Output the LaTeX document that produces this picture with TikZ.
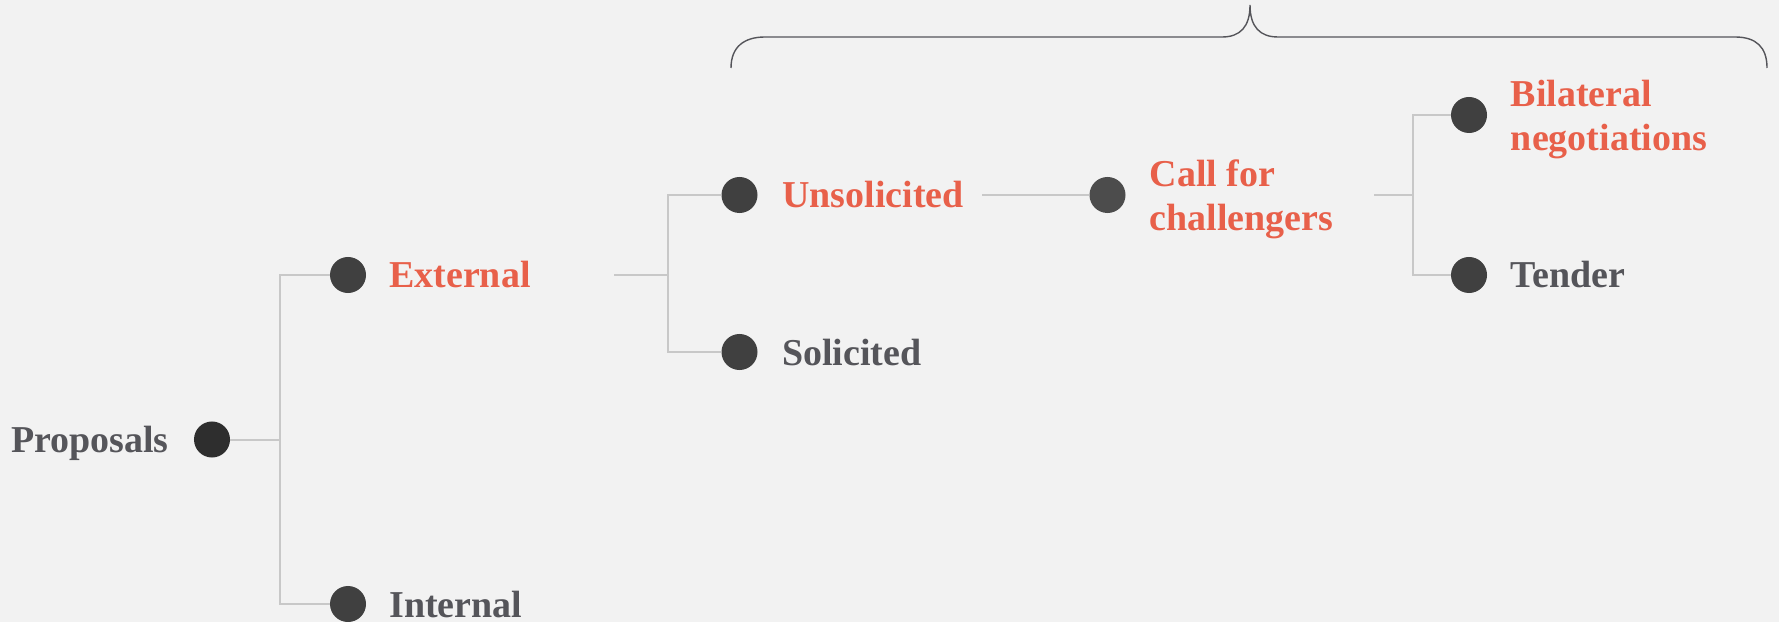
\documentclass[tikz,border=0pt]{standalone}
\usepackage{fontspec}
\setmainfont{Liberation Serif}
\usetikzlibrary{positioning}
\definecolor{bgcol}{RGB}{242,242,242}
\definecolor{redtext}{RGB}{232,96,74}
\definecolor{greytext}{RGB}{85,85,90}
\definecolor{dotcol}{RGB}{64,64,64}
\definecolor{linecol}{RGB}{200,200,200}
\begin{document}
\begin{tikzpicture}[x=0.025cm, y=-0.025cm,
  dotnode/.style={circle, fill=dotcol, inner sep=0pt, minimum size=0.9cm},
  lbl/.style={anchor=base west, inner sep=0pt, align=left, text=greytext, font=\bfseries\fontsize{27pt}{31.6pt}\selectfont},
  redlbl/.style={lbl, text=redtext},
  link/.style={draw=linecol, line width=0.05cm}]
\path[fill=bgcol, use as bounding box] (0,0) rectangle (1779,622);

% root
\node[dotnode, fill=black!82] at (212, 439.5) (prop) {};
\node[lbl, anchor=base east] at (169, 452) (prop-t) {Proposals};
\coordinate (j1) at (280, 439.5);

% level 1
\node[dotnode] at (348, 275) (ext) {};
\node[redlbl] at (389, 288) (ext-t) {External};
\node[dotnode] at (348, 604) (int) {};
\node[lbl] at (389, 617) (int-t) {Internal};
\draw[link] (prop) -- (j1) |- (ext);
\draw[link] (j1) |- (int);

% level 2
\coordinate (ext-out) at (614, 275);
\coordinate (j2) at (668, 275);
\node[dotnode] at (739.5, 195) (uns) {};
\node[redlbl] at (782, 208) (uns-t) {Unsolicited};
\node[dotnode] at (739.5, 352) (sol) {};
\node[lbl] at (782, 365) (sol-t) {Solicited};
\draw[link] (ext-out) -- (j2) |- (uns);
\draw[link] (j2) |- (sol);

% level 3
\coordinate (uns-out) at (982, 195);
\node[dotnode, fill=black!70] at (1107.5, 195) (cfc) {};
\node[redlbl] at (1149.5, 231) (cfc-t) {Call for\\challengers};
\draw[link] (uns-out) -- (cfc);

% level 4
\coordinate (cfc-out) at (1374, 195);
\coordinate (j3) at (1412.6, 195);
\node[dotnode] at (1469, 115) (bil) {};
\node[redlbl] at (1510.6, 151) (bil-t) {Bilateral\\negotiations};
\node[dotnode] at (1469, 275) (ten) {};
\node[lbl] at (1510.6, 288) (ten-t) {Tender};
\draw[link] (cfc-out) -- (j3) |- (bil);
\draw[link] (j3) |- (ten);

% brace
\draw[greytext, line width=0.035cm] (731, 68) .. controls (731, 47) and (744, 37) .. (765, 37)
  -- (1222, 37) .. controls (1240, 37) and (1250, 27) .. (1250, 5)
  .. controls (1250, 27) and (1260, 37) .. (1278, 37) -- (1735, 37)
  .. controls (1756, 37) and (1767, 47) .. (1767, 68);
\end{tikzpicture}
\end{document}
